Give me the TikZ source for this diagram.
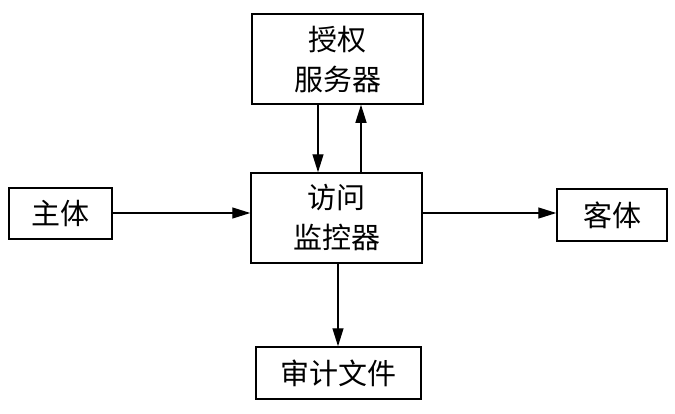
\documentclass[tikz,border=0pt]{standalone}
\usepackage{fontspec}
\setmainfont{Noto Sans CJK SC}
\usetikzlibrary{arrows.meta}
\begin{document}
\begin{tikzpicture}[x=1pt,y=-1pt,
  box/.style={draw,line width=1.5pt,inner sep=0pt,align=center,font=\fontsize{29}{40}\selectfont},
  arr/.style={line width=1.3pt,-{Triangle[length=18pt,width=11pt]}}]
\useasboundingbox (0,0) rectangle (675,413);
\node[box,minimum width=171pt,minimum height=90pt] (auth) at (337.5,59) {授权\\服务器};
\node[box,minimum width=171pt,minimum height=90pt] (mon) at (336.5,218) {访问\\监控器};
\node[box,minimum width=103pt,minimum height=51pt] (subj) at (60.5,213.5) {主体};
\node[box,minimum width=110pt,minimum height=52pt] (obj) at (612,215) {客体};
\node[box,minimum width=165pt,minimum height=52pt] (audit) at (338.5,373) {审计文件};
\coordinate (d) at (318,0);
\coordinate (u) at (361,0);
\coordinate (h) at (0,213);
\coordinate (v) at (338,0);
\draw[arr] (auth.south -| d) -- (mon.north -| d);
\draw[arr] (mon.north -| u) -- (auth.south -| u);
\draw[arr] (subj.east |- h) -- (mon.west |- h);
\draw[arr] (mon.east |- h) -- (obj.west |- h);
\draw[arr] (mon.south -| v) -- (audit.north -| v);
\end{tikzpicture}
\end{document}
